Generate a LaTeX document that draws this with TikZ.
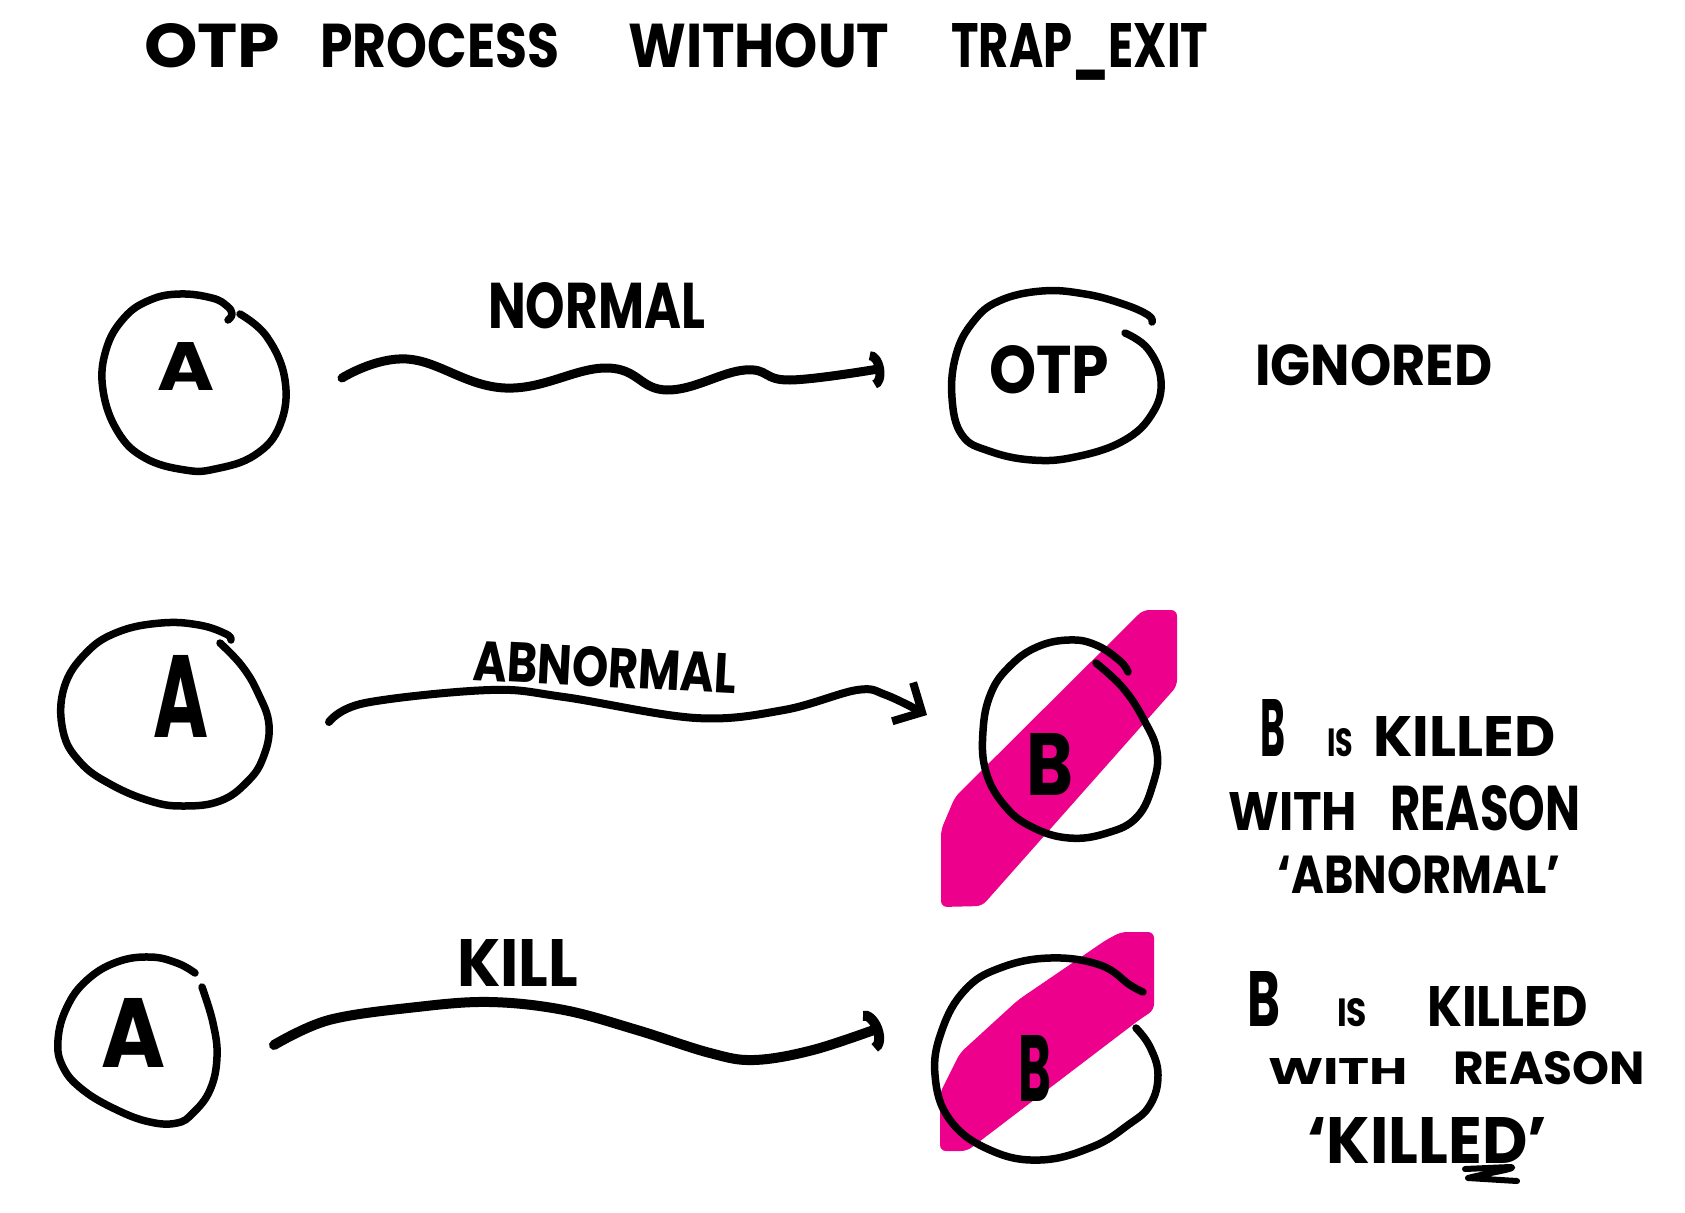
\documentclass[tikz,border=0pt]{standalone}
\usepackage{fontspec}
\setmainfont{Poppins}
\usetikzlibrary{arrows.meta}
\definecolor{marker}{RGB}{236,0,140}
\newcommand\fitt[3]{\resizebox{#1pt}{#2pt}{#3}}
\begin{document}
\begin{tikzpicture}[x=1pt,y=-1pt,
  ink/.style={line width=7.5pt,line cap=round,line join=round},
  wire/.style={line width=9pt,line cap=round,line join=round},
  hand/.style={anchor=base west,inner sep=0pt,font=\bfseries},
  blot/.style={fill=marker,draw=none,rounded corners=6pt}]
\useasboundingbox (0,0) rectangle (1685,1212);
\fill[white] (0,0) rectangle (1685,1212);

% title
\node[hand] (title) at (144,68) {\fitt{136}{44}{OTP}\hspace{40pt}\fitt{239}{44}{PROCESS}\hspace{69pt}\fitt{261}{44}{WITHOUT}\hspace{62pt}\fitt{257}{44}{TRAP\_EXIT}};

% pink marker strokes
\fill[blot] (1143,610) -- (1177,610) -- (1177,686) -- (982,906) -- (941,907) -- (941,830) -- (955,797) -- cycle;
\fill[blot] (1121,932) -- (1154,932) -- (1154,1010) -- (1139,1020) -- (967,1151) -- (940,1151) -- (940,1093) -- (960,1053) -- (1018,1000) -- (1106,940) -- cycle;

% ---- row 1
\draw[ink] plot[smooth,tension=0.7] coordinates {(240,314) (267,337) (285,380) (280,425) (255,455) (215,469) (185,470) (145,458) (118,432) (103,390) (106,350) (124,318) (150,300) (180,294) (212,298) (227,306) (232,314) (228,320)};
\node[hand] (a1) at (157,390) {\fitt{57}{48}{A}};
\draw[ink] plot[smooth,tension=0.7] coordinates {(1125,333) (1148,349) (1161,381) (1152,414) (1123,441) (1075,457) (1032,460) (989,451) (962,435) (952,398) (956,355) (973,322) (999,301) (1042,291) (1085,294) (1123,304) (1148,315) (1152,322)};
\node[hand] (otp) at (989,393) {\fitt{120}{48}{OTP}};
\coordinate (s1) at (342,378);
\coordinate (e1) at (884,368);
\draw[wire,-{Arc Barb[width=38pt,length=12pt]}] plot[smooth,tension=0.7] coordinates {(s1) (407,359) (505,388) (607,368) (667,390) (745,370) (790,380) (e1)};
\node[hand] (lnormal) at (488,328) {\fitt{217}{46}{NORMAL}};
\node[hand] (ignored) at (1255,385) {\fitt{237}{41}{IGNORED}};

% ---- row 2
\draw[ink] plot[smooth,tension=0.7] coordinates {(220,643) (242,666) (258,693) (269,725) (263,758) (247,782) (220,801) (183,806) (150,801) (110,784) (80,762) (63,731) (64,688) (86,653) (118,632) (161,623) (199,625) (226,634) (231,640)};
\node[hand] (a2) at (153,737) {\fitt{55}{82}{A}};
\draw[ink] plot[smooth,tension=0.7] coordinates {(1096,663) (1123,688) (1144,720) (1157,752) (1153,784) (1137,817) (1107,833) (1069,838) (1032,827) (1005,806) (986,772) (983,731) (991,693) (1010,666) (1037,647) (1069,640) (1096,645) (1120,661) (1128,672)};
\node[hand] (b2) at (1026,795) {\fitt{47}{62}{B}};
\coordinate (s2) at (329,722);
\coordinate (e2) at (927,715);
\draw[wire,line width=8pt,-{Straight Barb[length=22pt,width=44pt]}] plot[smooth,tension=0.6] coordinates {(s2) (365,703) (490,690) (564,697) (696,718) (784,710) (857,690) (886,695) (e2)};
\node[hand,rotate=-3] (labnormal) at (472,680) {\fitt{264}{40}{ABNORMAL}};
\node[hand] (r2a) at (1260,756) {\fitt{25}{57}{B}\hspace{42pt}\fitt{26}{28}{IS}\hspace{20pt}\fitt{182}{40}{KILLED}};
\node[hand] (r2b) at (1228,830) {\fitt{129}{38}{WITH}\hspace{33pt}\fitt{190}{45}{REASON}};
\node[hand] (r2c) at (1277,893) {\fitt{283}{38}{`ABNORMAL'}};

% ---- row 3
\draw[ink] plot[smooth,tension=0.7] coordinates {(202,987) (213,1023) (217,1057) (210,1090) (193,1113) (177,1123) (150,1122) (117,1110) (83,1090) (63,1067) (58,1040) (67,1007) (87,980) (117,962) (150,957) (177,963) (195,973)};
\node[hand] (a3) at (101,1067) {\fitt{64}{69}{A}};
\draw[ink] plot[smooth,tension=0.7] coordinates {(1136,1028) (1150,1047) (1158,1075) (1150,1105) (1128,1125) (1092,1147) (1040,1160) (990,1150) (950,1120) (935,1075) (942,1030) (965,990) (1000,968) (1050,958) (1100,965) (1130,985) (1143,992)};
\node[hand] (b3) at (1018,1101) {\fitt{33}{66}{B}};
\coordinate (s3) at (274,1045);
\coordinate (e3) at (882,1027);
\draw[wire,line width=10pt,-{Arc Barb[width=44pt,length=14pt]}] plot[smooth,tension=0.6] coordinates {(s3) (329,1020) (417,1007) (490,1002) (564,1010) (637,1030) (710,1053) (754,1060) (813,1050) (e3)};
\node[hand] (lkill) at (457,986) {\fitt{121}{47}{KILL}};
\node[hand] (r3a) at (1247,1026) {\fitt{33}{55}{B}\hspace{57pt}\fitt{30}{28}{IS}\hspace{60pt}\fitt{161}{40}{KILLED}};
\node[hand] (r3b) at (1268,1084) {\fitt{140}{26}{WITH}\hspace{45pt}\fitt{192}{33}{REASON}};
\node[hand] (r3c) at (1307,1163) {\fitt{240}{46}{`KILLED'}};
\draw[line width=6pt,line cap=round,line join=round] (1465,1169) -- (1510,1167) .. controls (1522,1168) and (1482,1174) .. (1468,1178) -- (1517,1181);
\end{tikzpicture}
\end{document}
